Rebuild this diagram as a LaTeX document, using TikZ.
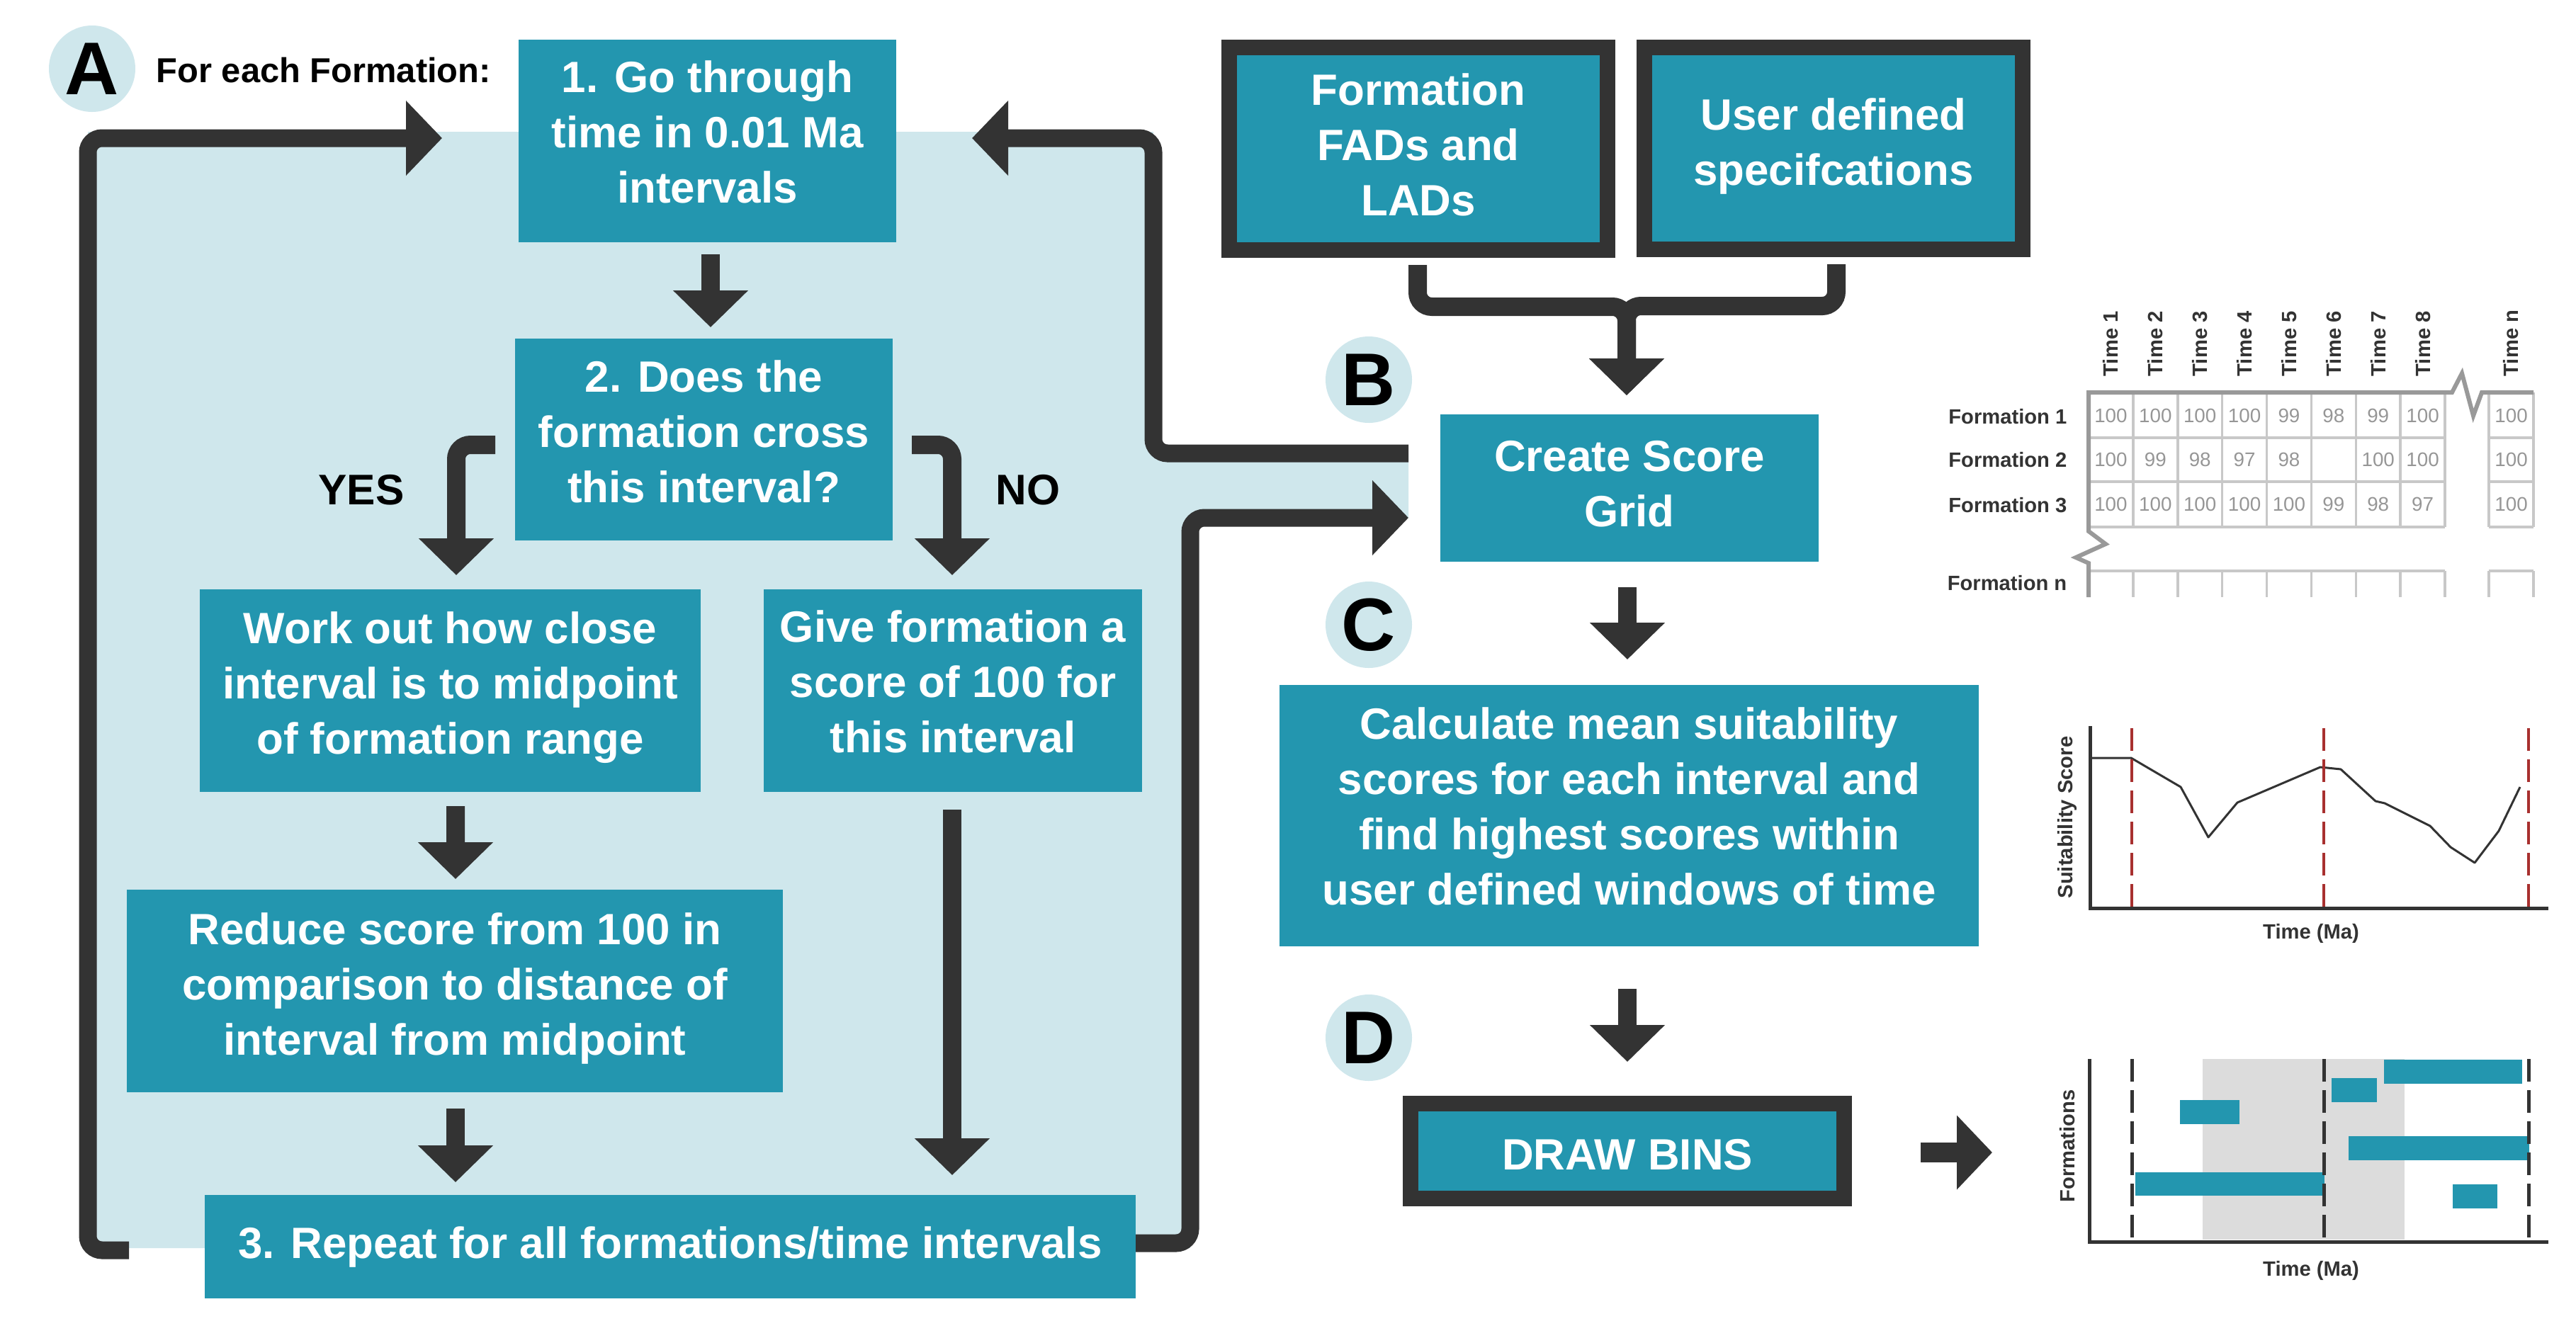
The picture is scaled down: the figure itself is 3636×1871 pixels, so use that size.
\documentclass[tikz,border=0pt]{standalone}
\usepackage{fontspec}
\setmainfont{Liberation Sans}
\usetikzlibrary{arrows.meta,calc}
\definecolor{tealc}{HTML}{2396AF}
\definecolor{lbluec}{HTML}{CFE7EC}
\definecolor{darkc}{HTML}{333333}
\definecolor{dredc}{HTML}{A8302F}
\definecolor{shadec}{HTML}{DCDCDC}
\definecolor{gridc}{HTML}{C8C8C8}
\definecolor{gridtc}{HTML}{999999}
\definecolor{numc}{HTML}{969696}
\newcommand\mybigf{\bfseries\fontsize{17.6}{22.2}\selectfont}
\newcommand\mysmf{\bfseries\fontsize{8.3}{10}\selectfont}
\newcommand\mynumf{\fontsize{7.9}{9}\selectfont}
\newcommand\myyesf{\bfseries\fontsize{17.2}{20}\selectfont}
\newcommand\mydp[1]{\rule[-#1]{0pt}{#1}}
\begin{document}
\begin{tikzpicture}[x=0.1mm,y=-0.1mm,
 boxst/.style={fill=tealc, text=white, font=\mybigf, align=center, inner sep=0pt, outer sep=0pt},
 framedst/.style={boxst, draw=darkc, line width=2.2mm},
 flowarrow/.style={draw=darkc, line width=2.6mm, -{Triangle[length=5.2mm,width=10.3mm]}},
 loopline/.style={draw=darkc, line width=2.5mm, rounded corners=2mm, -{Triangle[length=5.1mm,width=10.3mm]}},
 letterst/.style={circle, fill=lbluec, minimum size=12.2mm, inner sep=0pt, font=\bfseries\fontsize{30}{30}\selectfont, text=black},
 smallst/.style={font=\mysmf, text=darkc, inner sep=0pt},
 numst/.style={font=\mynumf, text=numc, inner sep=0pt},
]
\useasboundingbox (0,0) rectangle (3636,1871);
% background of panel A
\fill[lbluec] (124,186) -- (1628,186) -- (1628,640) -- (1988,640) -- (1988,731) -- (1680,731) -- (1680,1762) -- (124,1762) -- cycle;

% ---------- panel A ----------
\node[letterst] (la) at (130,97) {A};
\node[font=\bfseries\fontsize{13.9}{16}\selectfont, anchor=west, inner sep=0pt] (hdr) at (220,99) {For each Formation:};
\node[boxst, minimum width=53.3mm, minimum height=28.6mm] (b1) at (998.5,199) {1. Go through\\time in 0.01 Ma\\intervals\mydp{7.4pt}};
\node[boxst, minimum width=53.3mm, minimum height=28.5mm] (b2) at (993.5,620.5) {2. Does the\\formation cross\\this interval?\mydp{6.6pt}};
\node[boxst, minimum width=70.7mm, minimum height=28.6mm] (work) at (635.5,975) {Work out how close\\interval is to midpoint\\of formation range\mydp{6.2pt}};
\node[boxst, minimum width=53.4mm, minimum height=28.6mm] (give) at (1345,975) {Give formation a\\score of 100 for\\this interval\mydp{7.2pt}};
\node[boxst, minimum width=92.6mm, minimum height=28.6mm] (reduce) at (642,1399) {Reduce score from 100 in\\comparison to distance of\\interval from midpoint\mydp{5.6pt}};
\node[boxst, minimum width=131.4mm, minimum height=14.6mm] (b3) at (946,1760) {3. Repeat for all formations/time intervals};
\node[font=\myyesf, inner sep=0pt] (yes) at (510,692) {YES};
\node[font=\myyesf, inner sep=0pt] (no) at (1451,692) {NO};

\draw[flowarrow] ($(b1.south)+(4.5,17)$) -- ($(b2.north)+(9.5,-16)$);
\draw[flowarrow, rounded corners=2mm] ($(b2.west)+(-28,7.5)$) -| ($(work.north)+(8.5,-20)$);
\draw[flowarrow, rounded corners=2mm] ($(b2.east)+(27,7.5)$) -| ($(give.north)+(-1,-20)$);
\draw[flowarrow] ($(work.south)+(7.5,20)$) -- ($(reduce.north)+(1,-15)$);
\draw[flowarrow] ($(reduce.south)+(1,23)$) -- ($(b3.north)+(-303,-18)$);
\draw[flowarrow] ($(give.south)+(-1,25)$) -- ($(b3.north)+(398,-28)$);

% ---------- panel B/C/D ----------
\node[framedst, minimum width=53.4mm, minimum height=28.6mm] (fads) at (2002,210) {Formation\\FADs and\\LADs\mydp{3.1pt}};
\node[framedst, minimum width=53.4mm, minimum height=28.5mm] (user) at (2588,209.5) {User defined\\specifcations\mydp{5.1pt}};
\node[letterst] (lb) at (1932,536) {B};
\node[boxst, minimum width=53.4mm, minimum height=20.8mm] (grid) at (2300,689) {Create Score\\Grid\mydp{3.4pt}};
\node[letterst] (lc) at (1932,882) {C};
\node[boxst, minimum width=98.7mm, minimum height=36.9mm] (calc) at (2299.5,1151.5) {Calculate mean suitability\\scores for each interval and\\find highest scores within\\user defined windows of time\mydp{7.4pt}};
\node[letterst] (ld) at (1932,1465) {D};
\node[framedst, minimum width=61.2mm, minimum height=13.4mm] (bins) at (2297,1625) {\raisebox{-1.5pt}[\height][0pt]{DRAW BINS}};

% loops
\coordinate (lx) at (124,0);
\coordinate (rx) at (1628,0);
\coordinate (mx) at (1680,0);
\coordinate (ls) at ($(b3.west)+(-107,5)$);
\coordinate (rs) at ($(grid.west)+(-45,-49)$);
\coordinate (ms) at ($(b3.east)+(0,-5)$);
\draw[loopline] (ls) -- (ls -| lx) |- ($(b1.west)+(-108,-4)$);
\draw[loopline] (rs) -- (rs -| rx) |- ($(b1.east)+(107,-4)$);
\draw[loopline] (ms) -- (ms -| mx) |- ($(grid.west)+(-45,42)$);

\draw[flowarrow, rounded corners=2mm] ($(fads.south)+(-1,21)$) -- ++(0,59) -| ($(grid.north)+(-4,-27)$);
\draw[flowarrow, rounded corners=2mm] ($(user.south)+(4,21)$) -- ++(0,59) -| ($(grid.north)+(-4,-27)$);
\draw[flowarrow] ($(grid.south)+(-3,36)$) -- ($(calc.north)+(-2.5,-36)$);
\draw[flowarrow] ($(calc.south)+(-2.5,60)$) -- ($(bins.north)+(0,-59)$);
\coordinate (chartin) at (2812,1627);
\draw[draw=darkc, line width=2.8mm, -{Triangle[length=5mm,width=10.2mm]}] ($(bins.east)+(108,2)$) -- (chartin);

% ---------- score grid ----------
\foreach \i in {1,...,8} {
  \draw[gridc, line width=0.35mm] ({2948+62.875*\i},554) -- ++(0,190);
  \draw[gridc, line width=0.35mm] ({2948+62.875*\i},806) -- ++(0,37);
  \node[smallst, rotate=90, anchor=west] at ({2948+62.875*(\i-0.5)},532) {Time \i};
}
\node[smallst, rotate=90, anchor=west] at (3544.5,532) {Time n};
\foreach \y in {618,680,744,806} {
  \draw[gridc, line width=0.35mm] (2948,\y) -- (3451,\y);
  \draw[gridc, line width=0.35mm] (3513,\y) -- (3576,\y);
}
\draw[gridc, line width=0.35mm] (3513,554) -- (3513,744);
\draw[gridc, line width=0.35mm] (3576,554) -- (3576,744);
\draw[gridc, line width=0.35mm] (3513,806) -- (3513,843);
\draw[gridc, line width=0.35mm] (3576,806) -- (3576,843);
\draw[gridtc, line width=0.6mm] (2948,843) -- (2948,795) -- (2930,787) -- (2972,768) -- (2948,750) -- (2948,554) -- (3461,554) -- (3475,527) -- (3491,587) -- (3503,554) -- (3576,554);
\node[smallst, anchor=east] at (2918,588) {Formation 1};
\node[smallst, anchor=east] at (2918,649) {Formation 2};
\node[smallst, anchor=east] at (2918,713) {Formation 3};
\node[smallst, anchor=east] at (2918,823) {Formation n};
\foreach \c/\v in {1/100,2/100,3/100,4/100,5/99,6/98,7/99,8/100}
  \node[numst] at ({2948+62.875*(\c-0.5)},587) {\v};
\foreach \c/\v in {1/100,2/99,3/98,4/97,5/98,7/100,8/100}
  \node[numst] at ({2948+62.875*(\c-0.5)},649) {\v};
\foreach \c/\v in {1/100,2/100,3/100,4/100,5/100,6/99,7/98,8/97}
  \node[numst] at ({2948+62.875*(\c-0.5)},712) {\v};
\foreach \y in {587,649,712}
  \node[numst] at (3544.5,\y) {100};

% ---------- suitability chart ----------
\draw[darkc, line width=0.5mm] (2950,1025) -- (2950,1282) -- (3597,1282);
\draw[darkc, line width=0.3mm, line join=round] (2953,1070) -- (3008,1070) -- (3078,1111) -- (3117,1182) -- (3158,1133) -- (3275,1083) -- (3304,1086) -- (3353,1131) -- (3366,1134) -- (3430,1166) -- (3459,1196) -- (3493,1218) -- (3527,1173) -- (3557,1111);
\foreach \x in {3009,3280,3569}
  \draw[dredc, line width=0.45mm, dash pattern=on 3.2mm off 1.2mm] (\x,1028) -- (\x,1285);
\node[smallst, rotate=90] (sylab) at (2918,1154) {Suitability Score};
\node[smallst] (txlab1) at (3262,1318) {Time (Ma)};

% ---------- bins chart ----------
\fill[shadec] (3109,1495) rectangle (3394,1750);
\fill[tealc] (3365,1496) rectangle (3560,1530);
\fill[tealc] (3291,1522) rectangle (3355,1556);
\fill[tealc] (3077,1553) rectangle (3161,1587);
\fill[tealc] (3315,1604) rectangle (3570,1638);
\fill[tealc] (3014,1655) rectangle (3281,1688);
\fill[tealc] (3462,1672) rectangle (3525,1706);
\foreach \x in {3009,3280,3569}
  \draw[darkc, line width=0.5mm, dash pattern=on 3.2mm off 1.2mm] (\x,1495) -- (\x,1750);
\draw[darkc, line width=0.5mm] (2949,1495) -- (2949,1753) -- (3597,1753);
\node[smallst, rotate=90] (fmlab) at (2918,1618) {Formations};
\node[smallst] (txlab2) at (3262,1794) {Time (Ma)};
\end{tikzpicture}
\end{document}
